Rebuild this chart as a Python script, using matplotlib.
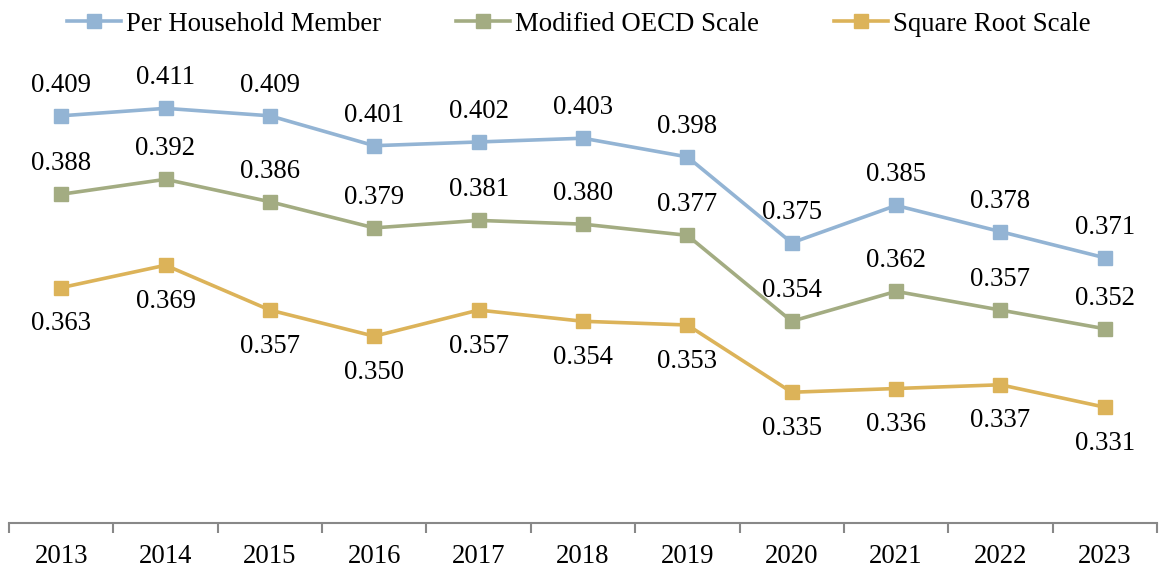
import matplotlib
matplotlib.use("Agg")
import matplotlib.pyplot as plt
from matplotlib.ticker import FixedLocator, NullFormatter

years = ["2013", "2014", "2015", "2016", "2017", "2018", "2019", "2020", "2021", "2022", "2023"]
per_member = [0.409, 0.411, 0.409, 0.401, 0.402, 0.403, 0.398, 0.375, 0.385, 0.378, 0.371]
oecd = [0.388, 0.392, 0.386, 0.379, 0.381, 0.380, 0.377, 0.354, 0.362, 0.357, 0.352]
sqrt_scale = [0.363, 0.369, 0.357, 0.350, 0.357, 0.354, 0.353, 0.335, 0.336, 0.337, 0.331]

plt.rcParams["font.family"] = ["Liberation Serif", "DejaVu Serif"]
FS = 19.3

fig = plt.figure(figsize=(11.6, 5.69), dpi=100)
ax = fig.add_axes([9 / 1160, 1 - 523 / 569, 1148 / 1160, 523 / 569])

xs = list(range(len(years)))
series = [
    ("Per Household Member", per_member, "#93b4d4", 22),
    ("Modified OECD Scale", oecd, "#a3ac82", 22),
    ("Square Root Scale", sqrt_scale, "#dcb359", -26),
]
for name, vals, color, off in series:
    ax.plot(xs, vals, color=color, linewidth=2.6, marker="s", markersize=9.5,
            markeredgecolor=color, label=name)
    for x, v in zip(xs, vals):
        ax.annotate(f"{v:.3f}", (x, v), xytext=(0, off), textcoords="offset points",
                    ha="center", va="center", fontsize=FS)

ax.set_xlim(-0.5, len(years) - 0.5)
ax.set_ylim(0.30, 0.44)
ax.set_yticks([])
for s in ["top", "right", "left"]:
    ax.spines[s].set_visible(False)
ax.spines["bottom"].set_color("#888888")
ax.spines["bottom"].set_linewidth(1.5)

ax.set_xticks(xs)
ax.set_xticklabels(years, fontsize=FS)
ax.tick_params(axis="x", which="major", length=0, pad=15)
ax.xaxis.set_minor_locator(FixedLocator([i - 0.5 for i in range(len(years) + 1)]))
ax.xaxis.set_minor_formatter(NullFormatter())
ax.tick_params(axis="x", which="minor", length=7, width=1.5, color="#888888")

fig.legend(loc="upper center", bbox_to_anchor=(0.499, 1.022), ncol=3, frameon=False,
           fontsize=FS, handlelength=2.0, columnspacing=2.8, handletextpad=0.2)

fig.savefig("out.png", dpi=100)
plt.close(fig)
